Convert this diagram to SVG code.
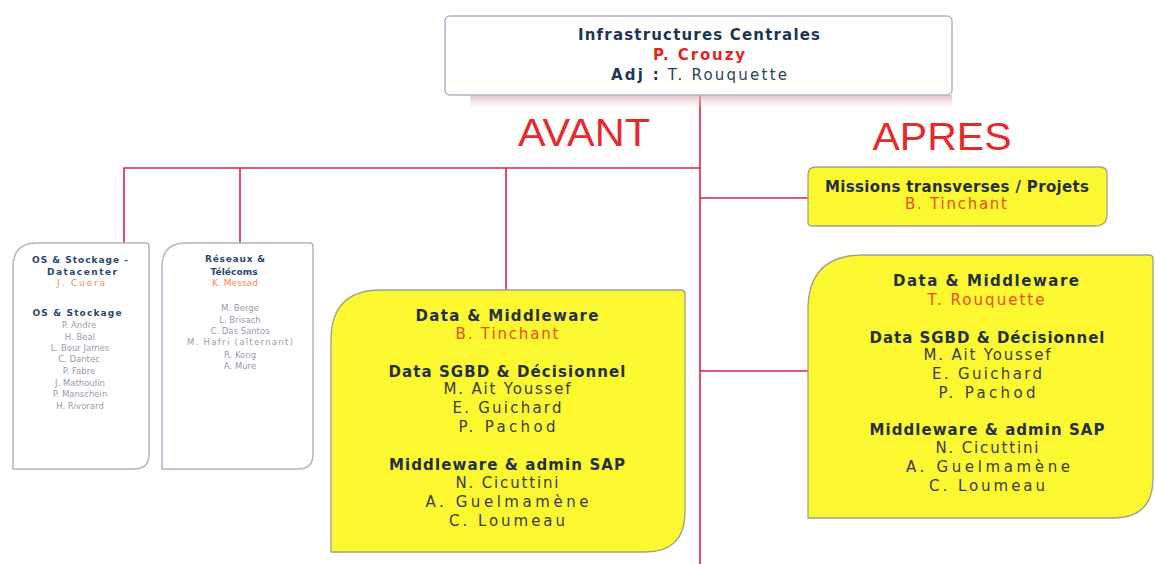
<svg xmlns="http://www.w3.org/2000/svg" width="1155" height="564" viewBox="0 0 1155 564">
  <defs>
    <linearGradient id="shadowGrad" x1="0" y1="0" x2="0" y2="1">
      <stop offset="0" stop-color="#d9a9b3" stop-opacity="0.75"/>
      <stop offset="1" stop-color="#f2dde1" stop-opacity="0"/>
    </linearGradient>
    <style>
      .link { fill: none; stroke: #d8234b; stroke-width: 1.6; }
      .white-box { fill: #ffffff; stroke: #b3b3c9; stroke-width: 1.5; }
      .yellow-box { fill: #fbf832; stroke: #a3a08c; stroke-width: 1.3; }
      .t { font-family: "DejaVu Sans", "Liberation Sans", sans-serif; text-anchor: middle; }
      .head { font-size: 15px; font-weight: bold; fill: #26303c; }
      .name { font-size: 15px; fill: #3c3c34; }
      .lead { font-size: 15px; fill: #ef4a1e; }
      .title { font-size: 15px; font-weight: bold; fill: #1d3553; }
      .boss { font-size: 15px; font-weight: bold; fill: #e3271c; }
      .adj { font-size: 15px; fill: #2a3f5c; }
      .small-head { font-size: 9px; font-weight: bold; fill: #29476e; }
      .small-lead { font-size: 9px; fill: #f08a5a; }
      .small-name { font-size: 8.5px; fill: #9a9aac; }
      .era { font-family: "Liberation Sans", Arial, sans-serif; font-size: 38px; fill: #e8282a; text-anchor: middle; }
    </style>
  </defs>

  <!-- connectors -->
  <g id="connectors">
    <line class="link" x1="700" y1="95" x2="700" y2="564"/>
    <polyline class="link" points="124,243 124,168 700,168"/>
    <line class="link" x1="240" y1="168" x2="240" y2="243"/>
    <line class="link" x1="506" y1="168" x2="506" y2="290"/>
    <line class="link" x1="700" y1="198" x2="808" y2="198"/>
    <line class="link" x1="700" y1="371" x2="808" y2="371"/>
  </g>

  <!-- head of the department -->
  <g id="infra-centrales">
    <rect x="470" y="95" width="482" height="14" fill="url(#shadowGrad)"/>
    <rect class="white-box" x="445" y="16" width="507" height="79" rx="5"/>
    <text class="t title" x="699" y="40" textLength="242" lengthAdjust="spacing">Infrastructures Centrales</text>
    <text class="t boss" x="699" y="60" textLength="92" lengthAdjust="spacing">P. Crouzy</text>
    <text class="t adj" x="699" y="80" textLength="176" lengthAdjust="spacing"><tspan font-weight="bold" fill="#1d3553">Adj :</tspan> T. Rouquette</text>
  </g>

  <!-- before / after labels -->
  <g id="labels">
    <text class="era" x="584" y="146" textLength="132" lengthAdjust="spacingAndGlyphs">AVANT</text>
    <text class="era" x="942" y="150" textLength="139" lengthAdjust="spacingAndGlyphs">APRES</text>
  </g>

  <!-- OS & Stockage - Datacenter -->
  <g id="os-stockage">
    <path class="white-box" d="M13,469 V267 Q13,243 37,243 H146 Q149,243 149,246 V454 Q149,469 134,469 Z"/>
    <text class="t small-head" x="80" y="263" textLength="96" lengthAdjust="spacing">OS &amp; Stockage -</text>
    <text class="t small-head" x="82" y="275" textLength="70" lengthAdjust="spacing">Datacenter</text>
    <text class="t small-lead" x="81" y="286" textLength="48" lengthAdjust="spacing">J. Cuera</text>
    <text class="t small-head" x="77" y="316" textLength="89" lengthAdjust="spacing">OS &amp; Stockage</text>
    <text class="t small-name" x="79" y="328">P. Andre</text>
    <text class="t small-name" x="80" y="340">H. Beal</text>
    <text class="t small-name" x="80" y="351">L. Bour James</text>
    <text class="t small-name" x="79" y="362">C. Dantec</text>
    <text class="t small-name" x="79" y="374">P. Fabre</text>
    <text class="t small-name" x="80" y="386">J. Mathoulin</text>
    <text class="t small-name" x="80" y="397">P. Manschein</text>
    <text class="t small-name" x="80" y="409">H. Rivorard</text>
  </g>

  <!-- Réseaux & Télécoms -->
  <g id="reseaux-telecoms">
    <path class="white-box" d="M162,469 V267 Q162,243 186,243 H310 Q313,243 313,246 V454 Q313,469 298,469 Z"/>
    <text class="t small-head" x="235" y="262" textLength="60" lengthAdjust="spacing">Réseaux &amp;</text>
    <text class="t small-head" x="234" y="275" textLength="47" lengthAdjust="spacing">Télécoms</text>
    <text class="t small-lead" x="235" y="286" textLength="46" lengthAdjust="spacing">K. Messad</text>
    <text class="t small-name" x="240" y="311">M. Berge</text>
    <text class="t small-name" x="240" y="323">L. Brisach</text>
    <text class="t small-name" x="240" y="334">C. Das Santos</text>
    <text class="t small-name" x="240" y="345" textLength="106" lengthAdjust="spacing">M. Hafri (alternant)</text>
    <text class="t small-name" x="240" y="358">R. Kong</text>
    <text class="t small-name" x="240" y="369">A. Mure</text>
  </g>

  <!-- Data & Middleware, before -->
  <g id="data-middleware-avant">
    <path class="yellow-box" d="M331,552 V340 Q331,290 381,290 H681 Q685,290 685,294 V512 Q685,552 645,552 Z"/>
    <text class="t head" x="507" y="321" textLength="183" lengthAdjust="spacing">Data  &amp; Middleware</text>
    <text class="t lead" x="507" y="339" textLength="103" lengthAdjust="spacing">B. Tinchant</text>
    <text class="t head" x="507" y="377" textLength="237" lengthAdjust="spacing">Data SGBD &amp; Décisionnel</text>
    <text class="t name" x="507" y="394" textLength="127" lengthAdjust="spacing">M. Ait Youssef</text>
    <text class="t name" x="507" y="413" textLength="109" lengthAdjust="spacing">E. Guichard</text>
    <text class="t name" x="507" y="432" textLength="97" lengthAdjust="spacing">P. Pachod</text>
    <text class="t head" x="507" y="470" textLength="236" lengthAdjust="spacing">Middleware &amp; admin SAP</text>
    <text class="t name" x="507" y="488" textLength="103" lengthAdjust="spacing">N. Cicuttini</text>
    <text class="t name" x="507" y="507" textLength="163" lengthAdjust="spacing">A.  Guelmamène</text>
    <text class="t name" x="507" y="526" textLength="116" lengthAdjust="spacing">C. Loumeau</text>
  </g>

  <!-- Missions transverses / Projets -->
  <g id="missions-transverses">
    <path class="yellow-box" d="M808,175 Q808,167 816,167 H1100 Q1107,167 1107,174 V214 Q1107,226 1095,226 H812 Q808,226 808,222 Z"/>
    <text class="t head" x="957" y="192" textLength="264" lengthAdjust="spacing">Missions transverses / Projets</text>
    <text class="t lead" x="956" y="209" textLength="102" lengthAdjust="spacing">B. Tinchant</text>
  </g>

  <!-- Data & Middleware, after -->
  <g id="data-middleware-apres">
    <path class="yellow-box" d="M808,518 V310 Q808,255 863,255 H1149 Q1153,255 1153,259 V478 Q1153,518 1113,518 Z"/>
    <text class="t head" x="986" y="286" textLength="186" lengthAdjust="spacing">Data  &amp; Middleware</text>
    <text class="t lead" x="986" y="305" textLength="117" lengthAdjust="spacing">T. Rouquette</text>
    <text class="t head" x="987" y="343" textLength="235" lengthAdjust="spacing">Data SGBD &amp; Décisionnel</text>
    <text class="t name" x="987" y="360" textLength="127" lengthAdjust="spacing">M. Ait Youssef</text>
    <text class="t name" x="987" y="379" textLength="110" lengthAdjust="spacing">E. Guichard</text>
    <text class="t name" x="987" y="398" textLength="97" lengthAdjust="spacing">P. Pachod</text>
    <text class="t head" x="987" y="435" textLength="235" lengthAdjust="spacing">Middleware &amp; admin SAP</text>
    <text class="t name" x="987" y="453" textLength="103" lengthAdjust="spacing">N. Cicuttini</text>
    <text class="t name" x="988" y="472" textLength="164" lengthAdjust="spacing">A.  Guelmamène</text>
    <text class="t name" x="987" y="491" textLength="116" lengthAdjust="spacing">C. Loumeau</text>
  </g>
</svg>
